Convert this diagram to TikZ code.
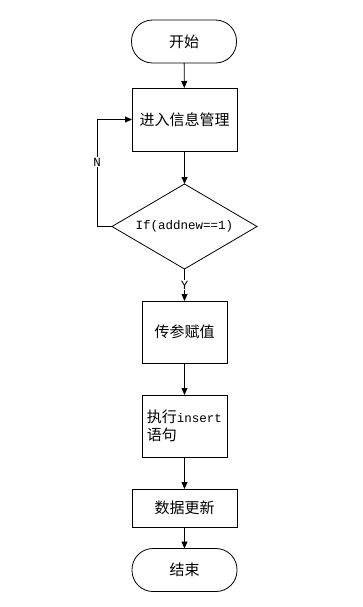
\documentclass[tikz,border=0pt]{standalone}
\usepackage{fontspec}
\newfontfamily\cjk{Noto Sans CJK SC}
\newfontfamily\mono{Liberation Mono}
\usetikzlibrary{arrows.meta,shapes.geometric}
\begin{document}
\begin{tikzpicture}[x=1pt,y=-1pt,
  line width=0.8pt,
  every node/.style={inner sep=0pt,outer sep=0pt},
  cjktext/.style={font=\cjk\fontsize{15}{18}\selectfont},
  term/.style={draw,cjktext,minimum width=105pt,minimum height=43pt,rounded corners=21pt},
  proc/.style={draw,cjktext,align=center},
  dec/.style={draw,diamond,aspect=1.7,minimum width=145pt,minimum height=85pt,font=\mono\fontsize{12.5}{15}\selectfont},
  lbl/.style={fill=white,inner sep=1pt,font=\mono\fontsize{12.5}{15}\selectfont},
  arr/.style={-{Triangle[length=7pt,width=6pt]}}]
\useasboundingbox (0,0) rectangle (362,607);
\node[term] (start) at (184,41.5) {开始};
\node[proc,minimum width=105pt,minimum height=63pt] (info) at (184.5,119.5) {进入信息管理};
\node[dec] (cond) at (184.5,226.5) {};
\node[font=\mono\fontsize{12.5}{15}\selectfont] at (184.5,226.5) {If(addnew==1)};
\node[proc,minimum width=85pt,minimum height=62pt] (param) at (184.5,332) {传参赋值};
\node[proc,minimum width=85pt,minimum height=62pt,align=left] (exec) at (184.5,426) {执行{\mono\fontsize{12.5}{15}\selectfont insert}\\语句};
\node[proc,minimum width=105pt,minimum height=38pt] (update) at (184.5,508) {数据更新};
\node[term] (end) at (184.5,570) {结束};
\coordinate (lb) at (97,226.5);
\coordinate (lt) at (97,119.5);
\draw[arr] (start) -- (info);
\draw[arr] (info) -- (cond.north);
\draw[arr] (cond.south) -- node[lbl,pos=0.5] {Y} (param);
\draw[arr] (param) -- (exec);
\draw[arr] (exec) -- (update);
\draw[arr] (update) -- (end);
\draw[arr] (cond.west) -- (lb) -- node[lbl,pos=0.6] {N} (lt) -- (info.west);
\end{tikzpicture}
\end{document}
